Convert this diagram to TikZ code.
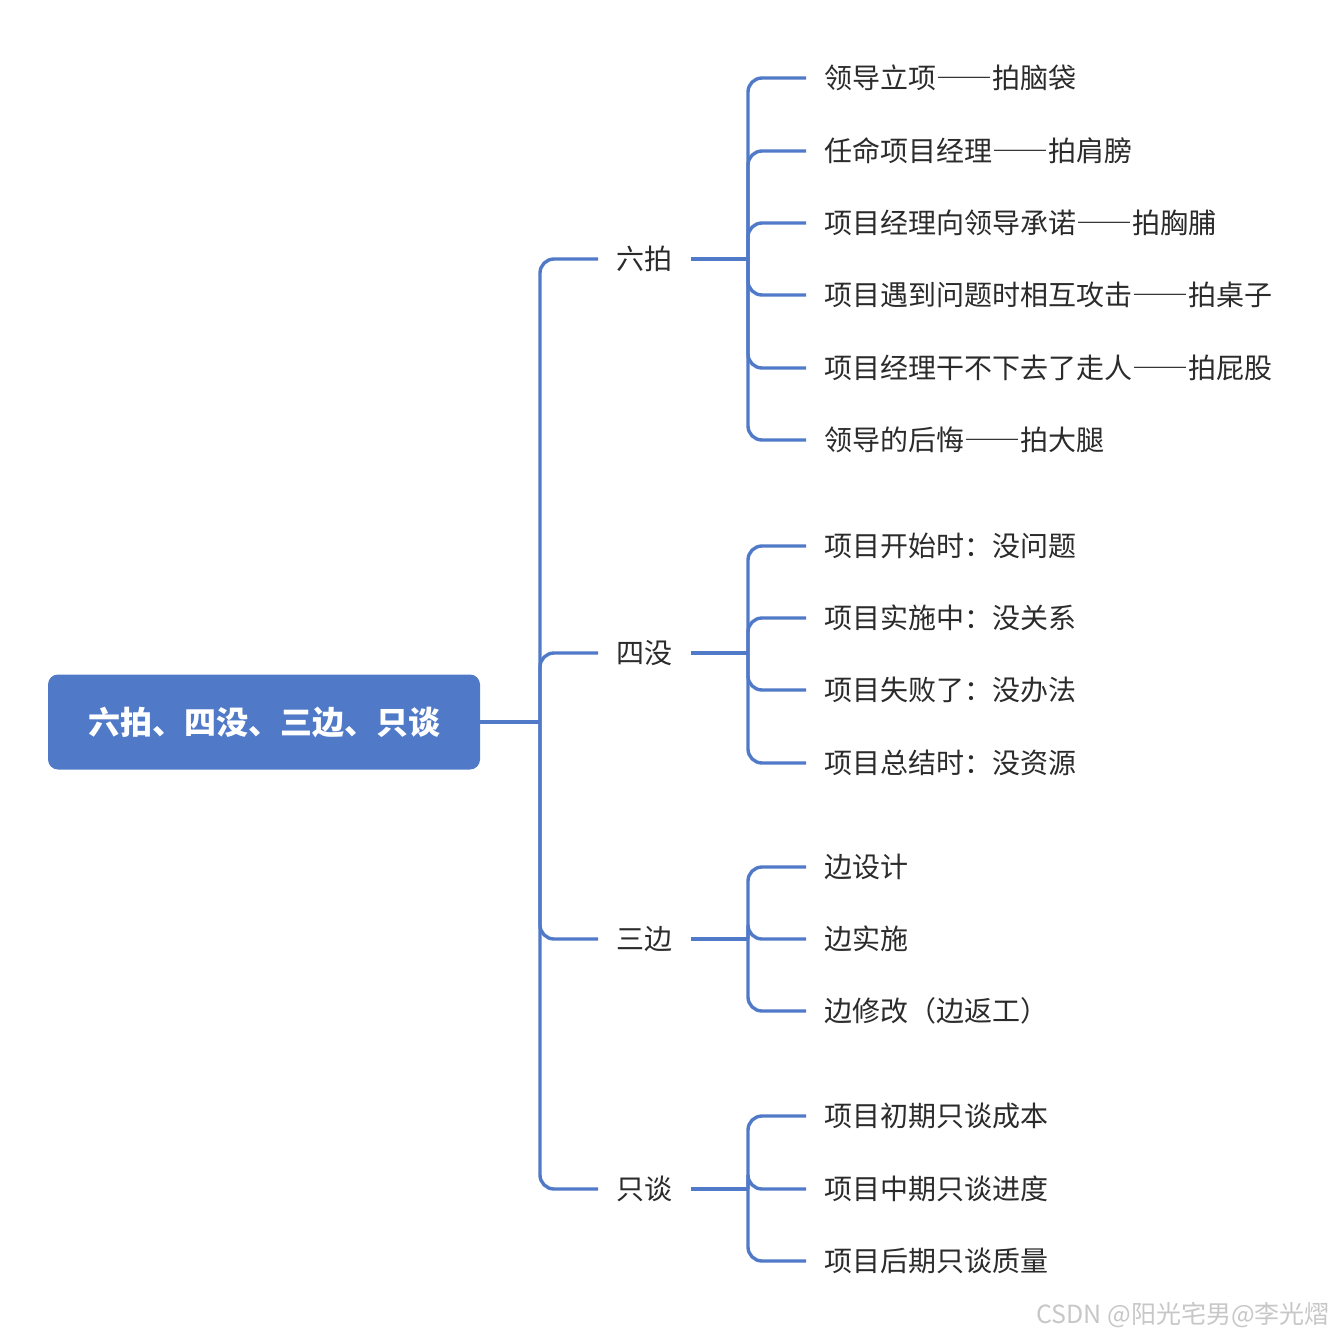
\documentclass[tikz,border=0pt]{standalone}
\usepackage{fontspec}
\setmainfont{Noto Sans CJK SC}
\usepackage{tikz}

\definecolor{mapblue}{HTML}{5079C8}
\definecolor{leafink}{HTML}{2B2B2B}
\newcommand{\zdash}{{\addfontfeature{RawFeature=+fwid}——}}
\tikzset{
  topic/.style={fill=mapblue, rounded corners=5pt, text=white,
    font=\fontsize{16pt}{19pt}\selectfont\bfseries,
    minimum width=216pt, minimum height=47.5pt},
  branch/.style={anchor=west, inner xsep=9pt, text=leafink,
    font=\fontsize{14pt}{17pt}\selectfont},
  leaf/.style={branch},
  link/.style={draw=mapblue, line width=1.7pt, rounded corners=7pt},
}

\begin{document}
\begin{tikzpicture}[x=0.5pt, y=-0.5pt]
    \useasboundingbox (0,0) rectangle (1338,1338);

    \node[topic] (root) at (264,722) {六拍、四没、三边、只谈};

    \node[branch] (pai) at (598,259) {六拍};
    \node[branch] (mei) at (598,653) {四没};
    \node[branch] (bian) at (598,939) {三边};
    \node[branch] (tan) at (598,1189) {只谈};

    \node[leaf] (pai1) at (806,78) {领导立项\zdash 拍脑袋};
    \node[leaf] (pai2) at (806,151) {任命项目经理\zdash 拍肩膀};
    \node[leaf] (pai3) at (806,223) {项目经理向领导承诺\zdash 拍胸脯};
    \node[leaf] (pai4) at (806,295) {项目遇到问题时相互攻击\zdash 拍桌子};
    \node[leaf] (pai5) at (806,368) {项目经理干不下去了走人\zdash 拍屁股};
    \node[leaf] (pai6) at (806,440) {领导的后悔\zdash 拍大腿};

    \node[leaf] (mei1) at (806,546) {项目开始时：没问题};
    \node[leaf] (mei2) at (806,618) {项目实施中：没关系};
    \node[leaf] (mei3) at (806,690) {项目失败了：没办法};
    \node[leaf] (mei4) at (806,763) {项目总结时：没资源};

    \node[leaf] (bian1) at (806,867) {边设计};
    \node[leaf] (bian2) at (806,939) {边实施};
    \node[leaf] (bian3) at (806,1011) {边修改（边返工）};

    \node[leaf] (tan1) at (806,1116) {项目初期只谈成本};
    \node[leaf] (tan2) at (806,1189) {项目中期只谈进度};
    \node[leaf] (tan3) at (806,1261) {项目后期只谈质量};

    \node[anchor=east, text=black!22, font=\fontsize{12.5pt}{15pt}\selectfont]
      (mark) at (1337,1315) {CSDN @阳光宅男@李光熠};

    % junctions
    \coordinate (j0) at (540,722);
    \coordinate (jpai) at (748,259);
    \coordinate (jmei) at (748,653);
    \coordinate (jbian) at (748,939);
    \coordinate (jtan) at (748,1189);

    \draw[link] (root.east) -- (j0);
    \draw[link] (j0) |- (pai.west);
    \draw[link] (j0) |- (mei.west);
    \draw[link] (j0) |- (bian.west);
    \draw[link] (j0) |- (tan.west);

    \draw[link] (pai.east) -- (jpai);
    \draw[link] (jpai) |- (pai1.west);
    \draw[link] (jpai) |- (pai2.west);
    \draw[link] (jpai) |- (pai3.west);
    \draw[link] (jpai) |- (pai4.west);
    \draw[link] (jpai) |- (pai5.west);
    \draw[link] (jpai) |- (pai6.west);

    \draw[link] (mei.east) -- (jmei);
    \draw[link] (jmei) |- (mei1.west);
    \draw[link] (jmei) |- (mei2.west);
    \draw[link] (jmei) |- (mei3.west);
    \draw[link] (jmei) |- (mei4.west);

    \draw[link] (bian.east) -- (jbian);
    \draw[link] (jbian) |- (bian1.west);
    \draw[link] (jbian) |- (bian2.west);
    \draw[link] (jbian) |- (bian3.west);

    \draw[link] (tan.east) -- (jtan);
    \draw[link] (jtan) |- (tan1.west);
    \draw[link] (jtan) |- (tan2.west);
    \draw[link] (jtan) |- (tan3.west);

\end{tikzpicture}
\end{document}
